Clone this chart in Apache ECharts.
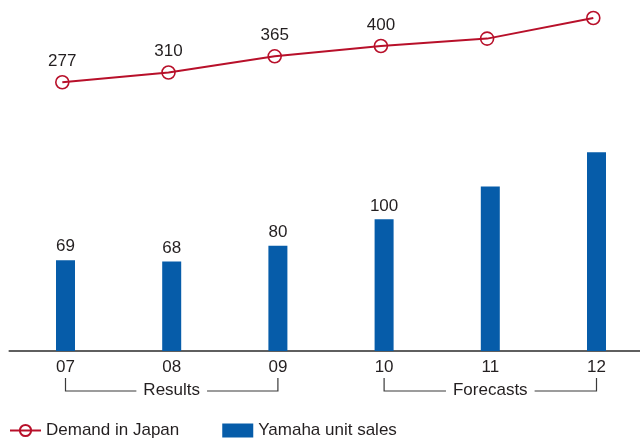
<!DOCTYPE html>
<html>
<head>
<meta charset="utf-8">
<script src="https://cdn.jsdelivr.net/npm/echarts@6/dist/echarts.min.js"></script>
<style>
  html, body { margin: 0; padding: 0; background: #fff; }
  #chart { width: 640px; height: 438px; }
</style>
</head>
<body>
<div id="chart"></div>
<script>
const years = ["07", "08", "09", "10", "11", "12"];
const demandJapan = [277, 310, 365, 400, 425, 495];
const yamahaSales = [69, 68, 80, 100, 125, 151];
const labelShown = [true, true, true, true, false, false];
const periods = [
  { name: "Results", from: "07", to: "09" },
  { name: "Forecasts", from: "10", to: "12" },
];

const RED = "#b8102a";
const BLUE = "#065ca9";
const INK = "#231f20";
const FONT = '"Liberation Sans", Arial, sans-serif';

const chart = echarts.init(document.getElementById("chart"));

function showIf(params) {
  return labelShown[params.dataIndex] ? String(params.value) : "";
}

chart.setOption({
  animation: false,
  textStyle: { fontFamily: FONT },
  legend: {
    left: 9,
    top: 422,
    padding: 0,
    itemWidth: 31,
    itemHeight: 14,
    itemGap: 43,
    textStyle: { fontSize: 17, color: INK, fontFamily: FONT },
    data: [
      { name: "Demand in Japan" },
      { name: "Yamaha unit sales", icon: "rect" },
    ],
  },
  grid: [
    { left: 12.4, width: 637.2, top: 10, height: 341, outerBoundsMode: "none" },
    { left: 9.2, width: 637.2, top: 10, height: 341, outerBoundsMode: "none" },
  ],
  xAxis: [
    {
      type: "category",
      gridIndex: 0,
      data: years,
      axisLine: { show: false },
      axisTick: { show: false },
      axisLabel: { fontSize: 17, color: INK, margin: 8, fontFamily: FONT },
    },
    {
      type: "category",
      gridIndex: 1,
      data: years,
      axisLine: { show: true, onZero: false, lineStyle: { color: "#2b2b2b", width: 1.5 } },
      axisTick: { show: false },
      axisLabel: { show: false },
    },
  ],
  yAxis: [
    { type: "value", gridIndex: 0, min: 0, max: 259, show: false, splitLine: { show: false } },
    { type: "value", gridIndex: 1, min: -634, max: 522, show: false, splitLine: { show: false } },
  ],
  series: [
    {
      name: "Yamaha unit sales",
      type: "bar",
      xAxisIndex: 0,
      yAxisIndex: 0,
      data: yamahaSales,
      barWidth: 19,
      itemStyle: { color: BLUE },
      label: {
        show: true,
        position: "top",
        distance: 5,
        fontSize: 17,
        color: INK,
        fontFamily: FONT,
        formatter: showIf,
      },
    },
    {
      name: "Demand in Japan",
      type: "line",
      xAxisIndex: 1,
      yAxisIndex: 1,
      data: demandJapan,
      symbol: "circle",
      symbolSize: 13,
      lineStyle: { color: RED, width: 2 },
      itemStyle: { color: "rgba(255,255,255,0)", borderColor: RED, borderWidth: 1.6 },
      label: {
        show: true,
        position: "top",
        distance: 5,
        fontSize: 17,
        color: INK,
        fontFamily: FONT,
        formatter: showIf,
      },
      z: 3,
    },
  ],
});

// period brackets under the axis labels
const base = chart.convertToPixel({ yAxisIndex: 0 }, 0);
const graphics = [];
periods.forEach((p) => {
  const x1 = chart.convertToPixel({ xAxisIndex: 0 }, p.from);
  const x2 = chart.convertToPixel({ xAxisIndex: 0 }, p.to);
  const top = base + 27;
  const bottom = base + 40;
  graphics.push({
    type: "polyline",
    shape: { points: [[x1, top], [x1, bottom], [x2, bottom], [x2, top]] },
    style: { stroke: "#3a3a3a", lineWidth: 1.2, fill: null },
    z: 10,
  });
  graphics.push({
    type: "text",
    z: 11,
    style: {
      text: p.name,
      x: (x1 + x2) / 2,
      y: bottom - 1,
      align: "center",
      verticalAlign: "middle",
      fill: INK,
      font: "17px " + FONT,
      backgroundColor: "#fff",
      padding: [0, 7],
    },
  });
});
chart.setOption({ graphic: graphics });
</script>
</body>
</html>
